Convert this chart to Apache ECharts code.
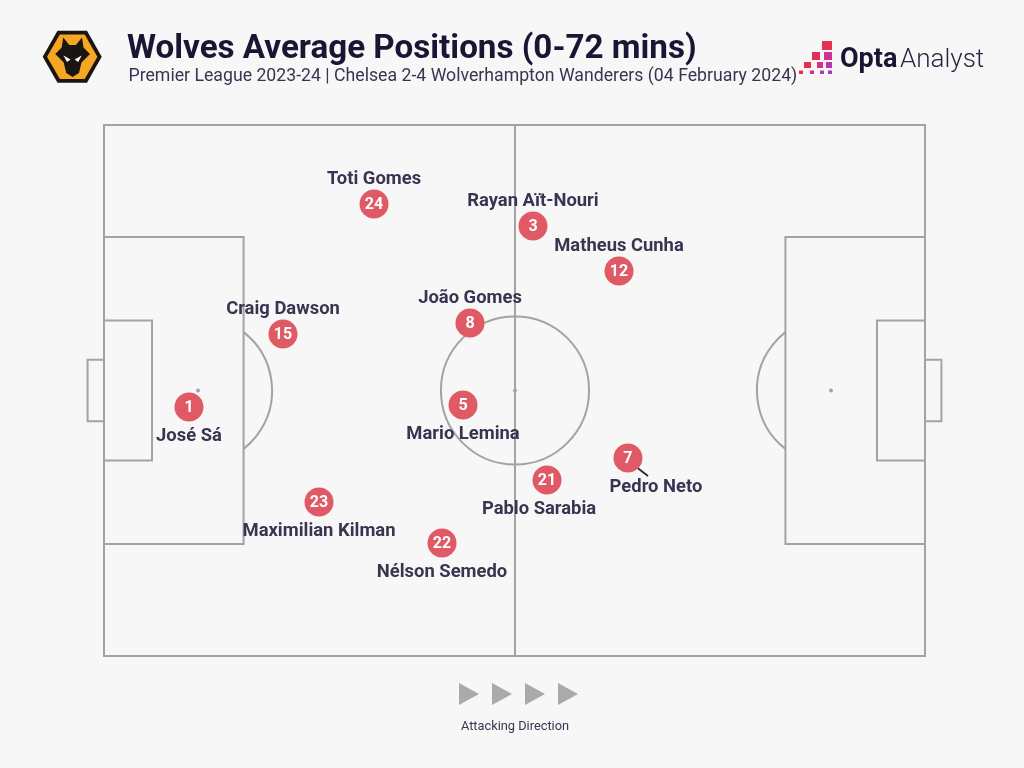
<!DOCTYPE html>
<html><head><meta charset="utf-8">
<style>html,body{margin:0;padding:0;background:#f7f7f8}#c{width:1024px;height:768px}</style>
<script src="https://cdn.jsdelivr.net/npm/echarts@6/dist/echarts.min.js"></script>
</head><body><div id="c"></div>
<script>
const shirtNumbers = [1, 15, 24, 3, 12, 8, 5, 21, 7, 23, 22];
const playerNames = ['José Sá','Craig Dawson','Toti Gomes','Rayan Aït-Nouri','Matheus Cunha','João Gomes','Mario Lemina','Pablo Sarabia','Pedro Neto','Maximilian Kilman','Nélson Semedo'];
const avgX = [10.35, 21.8, 32.89, 52.25, 62.73, 44.58, 43.73, 53.96, 63.82, 26.19, 41.17];
const avgY = [46.9, 60.64, 85.12, 80.98, 72.5, 62.71, 47.27, 33.15, 37.29, 29.0, 21.28];
const connectorX = [64.68, 66.26];
const connectorY = [35.78, 33.9];
const titleText = 'Wolves Average Positions (0-72 mins)';
const subtitleText = 'Premier League 2023-24 | Chelsea 2-4 Wolverhampton Wanderers (04 February 2024)';
const directionText = 'Attacking Direction';

const namesBelow = new Set(['José Sá','Mario Lemina','Pablo Sarabia','Pedro Neto','Maximilian Kilman','Nélson Semedo']);
const nameOffsets = {'Pablo Sarabia':[-8,1.5],'Pedro Neto':[28,1.5]};
const LINE='#a3a3a3', INK='#3a3450', RED='#e05a66';
const lineStyle={stroke:LINE,lineWidth:2,fill:'none'};

function renderPitch(p, api){
  const c=[];
  const rect=(x0,y0,x1,y1)=>{const a=api.coord([x0,y1]),b=api.coord([x1,y0]);
    c.push({type:'rect',shape:{x:a[0],y:a[1],width:b[0]-a[0],height:b[1]-a[1]},style:lineStyle});};
  const line=(x0,y0,x1,y1)=>{const a=api.coord([x0,y0]),b=api.coord([x1,y1]);
    c.push({type:'line',shape:{x1:a[0],y1:a[1],x2:b[0],y2:b[1]},style:lineStyle});};
  rect(0,0,100,100); line(50.06,0,50.06,100);
  [[0,17],[100,83]].forEach(([e,b])=>rect(e,21.1,b,78.9));
  [[0,5.85],[100,94.15]].forEach(([e,b])=>rect(e,36.8,b,63.2));
  [[-2,0],[100,102]].forEach(([a,b])=>rect(a,44.2,b,55.8));
  const r=api.size([9.02,0])[0];
  const cc=api.coord([50.06,50]);
  c.push({type:'circle',shape:{cx:cc[0],cy:cc[1],r:r},style:lineStyle});
  const dot=(x,y)=>{const q=api.coord([x,y]);c.push({type:'circle',shape:{cx:q[0],cy:q[1],r:2},style:{fill:LINE}});};
  dot(50.06,50);dot(11.45,50);dot(88.55,50);
  const lp=api.coord([11.45,50]),rp=api.coord([88.55,50]);
  const edge=api.coord([17,50])[0]-lp[0];
  const ang=Math.acos(edge/r);
  c.push({type:'arc',shape:{cx:lp[0],cy:lp[1],r:r,startAngle:-ang,endAngle:ang,clockwise:true},style:lineStyle});
  c.push({type:'arc',shape:{cx:rp[0],cy:rp[1],r:r,startAngle:Math.PI-ang,endAngle:Math.PI+ang,clockwise:true},style:lineStyle});
  return {type:'group',children:c};
}

const tri=(x)=>({type:'polygon',shape:{points:[[x,683],[x,705],[x+20,694]]},style:{fill:'#a9aaa9'}});
const sq=(x,y,w,h,f)=>({type:'rect',shape:{x,y,width:w,height:h},style:{fill:f}});
const mirror=(pts)=>pts.map(([x,y])=>[145.2-x,y]);
const eye=[[63.5,55.5],[70.5,59.5],[67,62]];
const graphics=[
 {type:'polygon',shape:{points:[[42.7,56.7],[57.5,30.7],[87,30.7],[101.7,56.7],[87,82.7],[57.5,82.7]]},style:{fill:'#1b1512'}},
 {type:'polygon',shape:{points:[[47,56.7],[59.8,34.5],[84.7,34.5],[97.4,56.7],[84.7,79],[59.8,79]]},style:{fill:'#f5a623'}},
 {type:'polygon',shape:{points:[[63.2,37.5],[69.3,45],[75.9,45],[82,37.5],[83.5,47.5],[90,54],[81.5,62.5],[79,73],[72.6,77],[66.2,73],[63.7,62.5],[55.2,54],[61.7,47.5]]},style:{fill:'#1b1512'}},
 {type:'polygon',shape:{points:eye},style:{fill:'#fff'}},
 {type:'polygon',shape:{points:mirror(eye)},style:{fill:'#fff'}},
 {type:'text',x:127,y:50,style:{text:titleText,font:'bold 33.2px Roboto',fill:'#1c1433',textVerticalAlign:'middle'}},
 {type:'text',x:128.5,y:76.5,style:{text:subtitleText,font:'17.7px Roboto',fill:'#3a3450',textVerticalAlign:'middle'}},
 sq(822,41,10,9,'#e6304f'),
 sq(812,52,8,8,'#e3305a'),sq(824,52,8,8,'#cf3291'),
 sq(804,62,7,6,'#e6304f'),sq(817,62,6,6,'#d63183'),sq(826,62,6,6,'#b935b4'),
 sq(799,70.5,4,3.5,'#e6304f'),sq(810,70.5,4,3.5,'#d1318e'),sq(820,70.5,4,3.5,'#b436bb'),sq(828,70.5,4,3.5,'#a43ac9'),
 {type:'text',x:840,y:60,style:{text:'Opta',font:'bold 27px Roboto',fill:'#1c1433',textVerticalAlign:'middle'}},
 {type:'text',x:900,y:60,style:{text:'Analyst',font:'300 26px Roboto',fill:'#2a2440',textVerticalAlign:'middle'}},
 tri(459),tri(492),tri(525),tri(558),
 {type:'text',x:515,y:727,style:{text:directionText,font:'12.8px Roboto',fill:'#3a3450',textAlign:'center',textVerticalAlign:'middle'}}
];

const chart=echarts.init(document.getElementById('c'));
chart.setOption({
 animation:false,
 backgroundColor:'#f7f7f8',
 grid:{left:104,top:125,width:821,height:531,containLabel:false},
 xAxis:{type:'value',min:0,max:100,show:false},
 yAxis:{type:'value',min:0,max:100,show:false},
 graphic:graphics,
 series:[
  {type:'custom',renderItem:renderPitch,data:[[0,0]],silent:true,z:1},
  {type:'line',data:connectorX.map((x,i)=>[x,connectorY[i]]),symbol:'none',silent:true,z:2,
   lineStyle:{color:'#2a2440',width:1.8}},
  {type:'scatter',symbol:'circle',symbolSize:29,z:3,silent:true,
   itemStyle:{color:RED,opacity:1},
   data:shirtNumbers.map((n,i)=>({value:[avgX[i],avgY[i]],label:{formatter:String(n)}})),
   label:{show:true,position:'inside',offset:[0,1],color:'#fff',fontFamily:'Roboto',fontWeight:'bold',fontSize:16}},
  {type:'scatter',symbol:'circle',symbolSize:1,z:4,silent:true,itemStyle:{color:'transparent',opacity:1},
   data:playerNames.map((name,i)=>({value:[avgX[i],avgY[i]],
     label:{formatter:name,position:namesBelow.has(name)?'bottom':'top',distance:namesBelow.has(name)?18:17,offset:nameOffsets[name]||[0,1.5]}})),
   label:{show:true,color:INK,fontFamily:'Roboto',fontWeight:'bold',fontSize:18.4}}
 ]
});
</script></body></html>
